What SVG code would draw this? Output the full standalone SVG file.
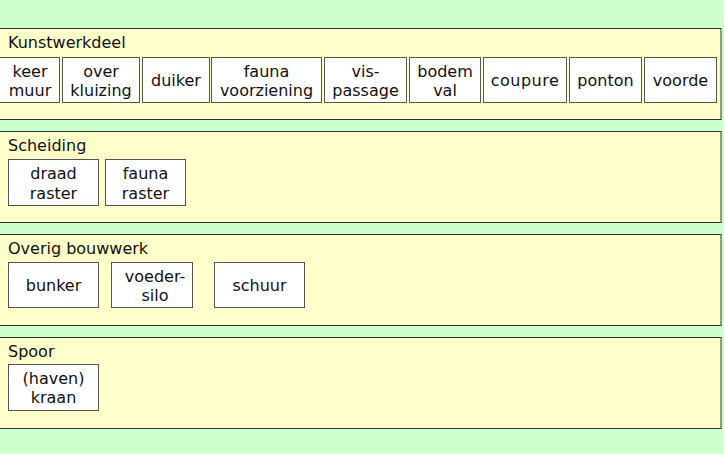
<svg xmlns="http://www.w3.org/2000/svg" width="724" height="454" viewBox="0 0 724 454">
<style>
.bg{fill:#ccffcc}
.panel{fill:#ffffcc;stroke:#333;stroke-width:1}
.box{fill:#ffffff;stroke:#555;stroke-width:1}
text{font-family:"DejaVu Sans","Verdana",sans-serif;font-size:16px;fill:#111}
.c{text-anchor:middle}
</style>
<rect class="bg" x="0" y="0" width="724" height="454"/>
<g id="panel-kunstwerkdeel">
<rect class="panel" x="-1" y="28.5" width="722" height="91"/>
<text x="8" y="48">Kunstwerkdeel</text>
</g>
<g id="panel-scheiding">
<rect class="panel" x="-1" y="131.5" width="722" height="91"/>
<text x="8" y="151">Scheiding</text>
</g>
<g id="panel-overig">
<rect class="panel" x="-1" y="234.5" width="722" height="91"/>
<text x="8" y="254">Overig bouwwerk</text>
</g>
<g id="panel-spoor">
<rect class="panel" x="-1" y="337.5" width="722" height="91"/>
<text x="8" y="357">Spoor</text>
</g>
<g id="connectors"></g>
<g id="keermuur"><rect class="box" x="-0.5" y="57.5" width="60" height="45"/><text class="c" x="30" y="77">keer</text><text class="c" x="30" y="96">muur</text></g>
<g id="overkluizing"><rect class="box" x="62.5" y="57.5" width="77" height="45"/><text class="c" x="101" y="77">over</text><text class="c" x="101" y="96">kluizing</text></g>
<g id="duiker"><rect class="box" x="142.5" y="57.5" width="67" height="45"/><text class="c" x="176" y="86">duiker</text></g>
<g id="faunavoorziening"><rect class="box" x="211.5" y="57.5" width="110" height="45"/><text class="c" x="266.5" y="77">fauna</text><text class="c" x="266.5" y="96">voorziening</text></g>
<g id="vispassage"><rect class="box" x="324.5" y="57.5" width="82" height="45"/><text class="c" x="365.5" y="77">vis-</text><text class="c" x="365.5" y="96">passage</text></g>
<g id="bodemval"><rect class="box" x="409.5" y="57.5" width="71" height="45"/><text class="c" x="445" y="77">bodem</text><text class="c" x="445" y="96">val</text></g>
<g id="coupure"><rect class="box" x="483.5" y="57.5" width="83" height="45"/><text class="c" x="525" y="86" letter-spacing="0.5">coupure</text></g>
<g id="ponton"><rect class="box" x="569.5" y="57.5" width="72" height="45"/><text class="c" x="605.5" y="86">ponton</text></g>
<g id="voorde"><rect class="box" x="644.5" y="57.5" width="72" height="45"/><text class="c" x="680.5" y="86">voorde</text></g>
<g id="draadraster"><rect class="box" x="8.5" y="159.5" width="90" height="46"/><text class="c" x="53.5" y="179">draad</text><text class="c" x="53.5" y="199">raster</text></g>
<g id="faunaraster"><rect class="box" x="105.5" y="159.5" width="80" height="46"/><text class="c" x="145.5" y="179">fauna</text><text class="c" x="145.5" y="199">raster</text></g>
<g id="bunker"><rect class="box" x="8.5" y="262.5" width="90" height="45"/><text class="c" x="53.5" y="291">bunker</text></g>
<g id="voedersilo"><rect class="box" x="111.5" y="262.5" width="81" height="45"/><text class="c" x="155" y="282">voeder-</text><text class="c" x="155" y="301">silo</text></g>
<g id="schuur"><rect class="box" x="214.5" y="262.5" width="90" height="45"/><text class="c" x="259.5" y="291">schuur</text></g>
<g id="havenkraan"><rect class="box" x="8.5" y="364.5" width="90" height="46"/><text class="c" x="53.5" y="384">(haven)</text><text class="c" x="53.5" y="403">kraan</text></g>
</svg>
